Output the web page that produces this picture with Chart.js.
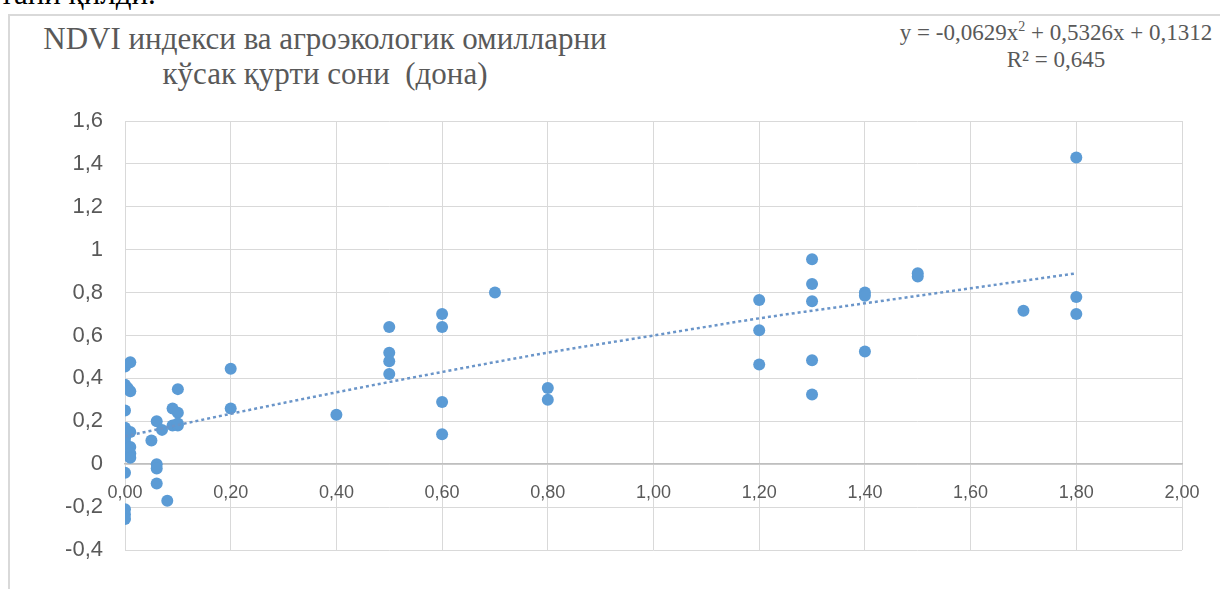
<!DOCTYPE html>
<html>
<head>
<meta charset="utf-8">
<script src="https://cdn.jsdelivr.net/npm/chart.js@4"></script>
<style>
  html, body { margin: 0; padding: 0; background: #fff; overflow: hidden; }
  body { width: 1220px; height: 589px; position: relative; }
  .serif { font-family: 'Liberation Serif', 'Times New Roman', 'DejaVu Serif', serif; }
  #prev { position: absolute; left: 0; top: -24px; font-size: 31px; color: #000; white-space: nowrap; }
  #frame { position: absolute; left: 8px; top: 14px; width: 1400px; height: 800px; border: 2px solid #d9d9d9; box-sizing: border-box; }
  #title { position: absolute; left: 25px; top: 21px; width: 600px; text-align: center; font-size: 31px; line-height: 35px; color: #595959; white-space: nowrap; }
  #eq { position: absolute; left: 878px; top: 13px; width: 356px; text-align: center; font-size: 23px; line-height: 27px; color: #595959; white-space: nowrap; }
  canvas { position: absolute; left: 0; top: 0; }
</style>
</head>
<body>
<div id="prev" class="serif">тани қилди.</div>
<div id="frame"></div>
<div id="title" class="serif">NDVI индекси ва агроэкологик омилларни<br>кўсак қурти сони&nbsp; (дона)</div>
<div id="eq" class="serif">y = -0,0629x<sup style="font-size:14px">2</sup> + 0,5326x + 0,1312<br>R² = 0,645</div>
<canvas id="chart" width="1220" height="589"></canvas>
<script>
/* ============================
   Data
============================ */
const xValues = [
    0, 0.01, 0, 0.005, 0.01, 0, 0, 0.01, 0, 0, 0.01, 0.01, 0.01, 0, 0, 0, 0,
    0.05, 0.06, 0.06, 0.06, 0.06, 0.08, 0.07, 0.09, 0.10, 0.10, 0.09, 0.10, 0.10,
    0.2, 0.2, 0.4, 0.5, 0.5, 0.5, 0.5, 0.6, 0.6, 0.6, 0.6, 0.7, 0.8, 0.8,
    1.2, 1.2, 1.2, 1.3, 1.3, 1.3, 1.3, 1.3, 1.4, 1.4, 1.4, 1.5, 1.5, 1.7, 1.8, 1.8, 1.8
];
const yValues = [
    0.455, 0.475, 0.37, 0.355, 0.34, 0.25, 0.17, 0.15, 0.12, 0.10, 0.08, 0.05, 0.03, -0.04, -0.21, -0.235, -0.255,
    0.11, 0.20, 0.0, -0.02, -0.09, -0.17, 0.16, 0.26, 0.24, 0.35, 0.18, 0.18, 0.19,
    0.445, 0.26, 0.23, 0.64, 0.52, 0.48, 0.42, 0.70, 0.64, 0.29, 0.14, 0.80, 0.355, 0.30,
    0.765, 0.625, 0.465, 0.955, 0.84, 0.76, 0.485, 0.325, 0.80, 0.785, 0.525, 0.89, 0.875, 0.715, 1.43, 0.78, 0.70
];

// polynomial trend line as it appears in the picture
const trendX = [0, 0.2, 0.4, 0.6, 0.8, 1.0, 1.2, 1.4, 1.6, 1.8];
const trendY = [0.13, 0.235, 0.335, 0.43, 0.52, 0.60, 0.68, 0.75, 0.82, 0.89];

const yTicks = [-0.4, -0.2, 0, 0.2, 0.4, 0.6, 0.8, 1, 1.2, 1.4, 1.6];
const xTicks = [0, 0.2, 0.4, 0.6, 0.8, 1.0, 1.2, 1.4, 1.6, 1.8, 2.0];

/* ============================
   Build chart
============================ */
const points = xValues.map((x, i) => ({ x: x, y: yValues[i] }));
const trend = trendX.map((x, i) => ({ x: x, y: trendY[i] }));

const labelFont = "'Liberation Sans', 'DejaVu Sans', sans-serif";

new Chart(document.getElementById('chart').getContext('2d'), {
    type: 'scatter',
    data: {
        datasets: [{
            type: 'line',
            data: trend,
            borderColor: '#6a95c9',
            borderWidth: 2.5,
            borderDash: [3, 3],
            pointRadius: 0,
            tension: 0.4,
            cubicInterpolationMode: 'monotone',
            fill: false
        }, {
            data: points,
            backgroundColor: '#5b9bd5',
            borderWidth: 0,
            pointRadius: 6
        }]
    },
    options: {
        responsive: false,
        animation: false,
        devicePixelRatio: 1,
        layout: { padding: { left: 0, top: 121, right: 38, bottom: 39 } },
        plugins: {
            legend: { display: false },
            tooltip: { enabled: false }
        },
        scales: {
            x: {
                type: 'linear',
                position: { y: 0 },
                min: 0,
                max: 2,
                afterFit: scale => { scale.height = 0; },
                afterBuildTicks: scale => { scale.ticks = xTicks.map(v => ({ value: v })); },
                grid: { color: '#d9d9d9', drawTicks: false },
                border: { color: '#bfbfbf', width: 1.5 },
                ticks: {
                    padding: 18,
                    color: '#595959',
                    font: { family: labelFont, size: 18 },
                    callback: v => v.toFixed(2).replace('.', ',')
                }
            },
            y: {
                min: -0.4,
                max: 1.6,
                afterFit: scale => { scale.width = 125; },
                afterBuildTicks: scale => { scale.ticks = yTicks.map(v => ({ value: v })); },
                grid: { color: '#d9d9d9', drawTicks: false },
                border: { display: false },
                ticks: {
                    padding: 22,
                    color: '#595959',
                    font: { family: labelFont, size: 22 },
                    callback: v => String(Math.round(v * 10) / 10).replace('.', ',')
                }
            }
        }
    }
});
</script>
</body>
</html>
